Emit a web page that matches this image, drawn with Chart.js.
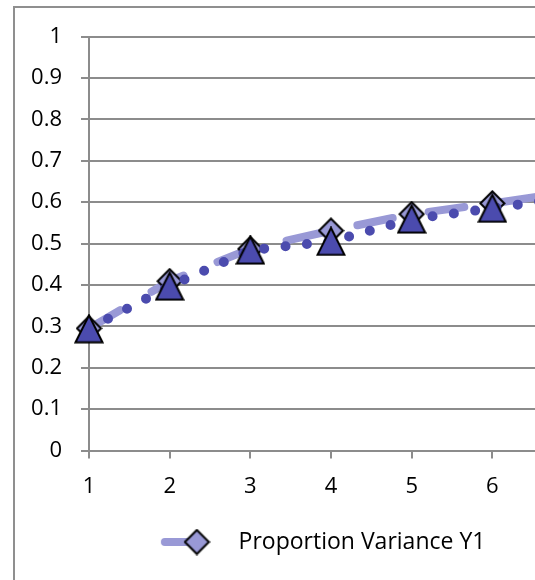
<!DOCTYPE html>
<html>
<head>
<meta charset="utf-8">
<script src="https://cdn.jsdelivr.net/npm/chart.js@4/dist/chart.umd.min.js"></script>
<style>
  html, body { margin: 0; padding: 0; background: #fff; overflow: hidden; }
  #frame {
    position: absolute; left: 13px; top: 6px;
    width: 700px; height: 700px;
    border-left: 2px solid #8f8f8f; border-top: 2px solid #8f8f8f;
  }
  #wrap { position: absolute; left: 0; top: 0; width: 640px; height: 580px; }
</style>
</head>
<body>
<div id="frame"></div>
<div id="wrap"><canvas id="chart" width="640" height="580"></canvas></div>
<script>
/* Proportion of variance, two series, Excel-style line chart */

const categories = ['1', '2', '3', '4', '5', '6', '7'];
const varianceY1 = [0.295, 0.409, 0.487, 0.531, 0.571, 0.597, 0.625];
const varianceY2 = [0.294, 0.397, 0.484, 0.505, 0.559, 0.585, 0.613];
const yTickLabels = ['0', '0.1', '0.2', '0.3', '0.4', '0.5', '0.6', '0.7', '0.8', '0.9', '1'];

const LIGHT = '#9999d6';
const DARK = '#4b4bae';
const GRID = '#8c8c8c';
const FONT = { family: "'Open Sans', sans-serif", size: 22 };

// small canvases used as point styles
function makeDiamond() {
  const c = document.createElement('canvas');
  c.width = 27; c.height = 27;
  const g = c.getContext('2d');
  g.beginPath();
  g.moveTo(13.5, 1.5); g.lineTo(25.5, 13.5); g.lineTo(13.5, 25.5); g.lineTo(1.5, 13.5);
  g.closePath();
  g.fillStyle = LIGHT; g.fill();
  g.lineWidth = 2; g.strokeStyle = '#000'; g.stroke();
  return c;
}

function makeTriangle() {
  const c = document.createElement('canvas');
  c.width = 30; c.height = 30;
  const g = c.getContext('2d');
  g.beginPath();
  g.moveTo(15, 1.5); g.lineTo(28.5, 28.5); g.lineTo(1.5, 28.5);
  g.closePath();
  g.fillStyle = DARK; g.fill();
  g.lineWidth = 2; g.strokeStyle = '#000'; g.stroke();
  return c;
}

function makeLegendMark() {
  const c = document.createElement('canvas');
  c.width = 90; c.height = 30;
  const g = c.getContext('2d');
  g.beginPath();
  g.moveTo(8, 15); g.lineTo(37, 15);
  g.lineWidth = 8; g.lineCap = 'round'; g.strokeStyle = LIGHT; g.stroke();
  g.drawImage(makeDiamond(), 40 - 13.5, 15 - 13.5);
  return c;
}

new Chart(document.getElementById('chart'), {
  type: 'line',
  data: {
    labels: categories,
    datasets: [
      {
        label: 'Proportion Variance Y1',
        data: varianceY1,
        order: 1,
        borderColor: LIGHT,
        borderWidth: 8,
        borderDash: [36, 36.5],
        borderCapStyle: 'round',
        pointStyle: makeDiamond(),
        pointRadius: 13,
        tension: 0,
        clip: false,
      },
      {
        label: 'Proportion Variance Y2',
        data: varianceY2,
        order: 0,
        borderColor: DARK,
        borderWidth: 10,
        borderDash: [0, 21.5],
        borderCapStyle: 'round',
        pointStyle: makeTriangle(),
        pointRadius: 14,
        tension: 0,
        clip: false,
      }
    ]
  },
  options: {
    responsive: false,
    animation: false,
    events: [],
    layout: { padding: { top: 36.5, left: 0, right: 67, bottom: 16.5 } },
    plugins: {
      tooltip: { enabled: false },
      legend: {
        position: 'bottom',
        fullSize: false,
        labels: {
          filter: item => item.datasetIndex === 0,
          usePointStyle: true,
          pointStyle: makeLegendMark(),
          pointStyleWidth: 50.5,
          padding: 20,
          color: '#000',
          font: { family: FONT.family, size: 23 },
        }
      }
    },
    scales: {
      x: {
        type: 'category',
        offset: false,
        afterFit(scale) { scale.height = 60; },
        border: { color: GRID, width: 2 },
        grid: { drawOnChartArea: false, drawTicks: true, tickLength: 8, color: GRID, lineWidth: 2 },
        ticks: { color: '#000', font: FONT, padding: 15, maxRotation: 0, autoSkip: false }
      },
      y: {
        min: 0,
        max: 1,
        afterFit(scale) { scale.width = 89; },
        border: { color: GRID, width: 2 },
        grid: { color: GRID, lineWidth: 2, tickLength: 8 },
        ticks: {
          stepSize: 0.1,
          color: '#000',
          font: FONT,
          padding: 19,
          callback: (v, i) => yTickLabels[i]
        }
      }
    }
  }
});
</script>
</body>
</html>
